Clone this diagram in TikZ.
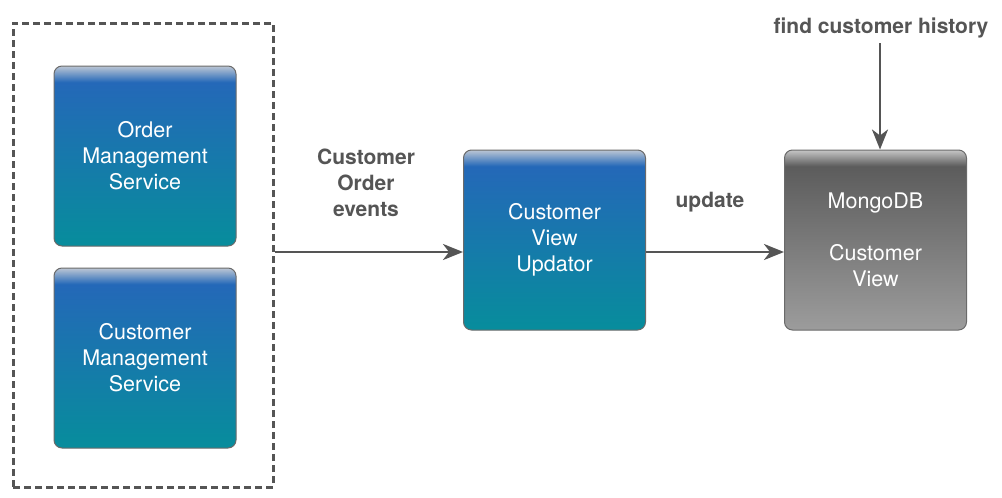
\documentclass[tikz,border=0pt]{standalone}
\usepackage{fontspec}
\setmainfont{TeX Gyre Heros}
\usetikzlibrary{arrows.meta}
\definecolor{txtgray}{HTML}{555555}
\definecolor{edgegray}{HTML}{6A6A6A}
\definecolor{bluetop}{HTML}{2468B8}
\definecolor{bluebot}{HTML}{078D9C}
\definecolor{bluehi}{HTML}{BCC6D4}
\definecolor{graytop}{HTML}{5C5C5C}
\definecolor{graybot}{HTML}{9C9C9C}
\definecolor{grayhi}{HTML}{C6C6C6}
\pgfdeclareverticalshading{bluegloss}{100bp}{color(0bp)=(bluebot); color(25bp)=(bluebot); color(70.5bp)=(bluetop); color(75bp)=(bluehi); color(100bp)=(bluehi)}
\pgfdeclareverticalshading{graygloss}{100bp}{color(0bp)=(graybot); color(25bp)=(graybot); color(70.5bp)=(graytop); color(75bp)=(grayhi); color(100bp)=(grayhi)}
\begin{document}
\begin{tikzpicture}[x=1pt,y=-1pt,
  svcbox/.style={draw=edgegray, line width=1pt, rounded corners=8pt, shading=bluegloss,
    minimum width=182pt, minimum height=180pt, inner sep=0pt,
    text=white, font=\fontsize{21.5}{26}\selectfont, align=center},
  dbbox/.style={svcbox, shading=graygloss},
  lbl/.style={text=txtgray, font=\fontsize{21}{26}\selectfont\bfseries, align=center, inner sep=0pt},
  conn/.style={draw=txtgray, line width=2.7pt, -{Stealth[length=20pt,width=16pt,inset=6pt]}}
]
\useasboundingbox (0,0) rectangle (1002,498);
\node[draw=txtgray, line width=3pt, dash pattern=on 7pt off 4pt, minimum width=260pt, minimum height=464pt, inner sep=0pt] (group) at (143,255) {};
\node[svcbox] (order) at (145,156) {Order\\Management\\Service};
\node[svcbox] (cust) at (145,358) {Customer\\Management\\Service};
\node[svcbox] (upd) at (554.5,240) {Customer\\View\\Updator};
\node[dbbox] (mongo) at (875.5,240) {MongoDB\\[26pt]Customer\\View};
\node[lbl] (evlbl) at (366,183) {Customer\\Order\\events};
\node[lbl] (updlbl) at (710,202) {update};
\node[lbl] (histlbl) at (881,28) {find customer history};
\coordinate (gout) at (group.east |- 0,252);
\coordinate (uin) at (upd.west |- 0,252);
\coordinate (uout) at (upd.east |- 0,252);
\coordinate (min) at (mongo.west |- 0,252);
\coordinate (htop) at (880,43);
\draw[conn] (gout) -- (uin);
\draw[conn] (uout) -- (min);
\draw[conn] (htop) -- (htop |- mongo.north);
\end{tikzpicture}
\end{document}
